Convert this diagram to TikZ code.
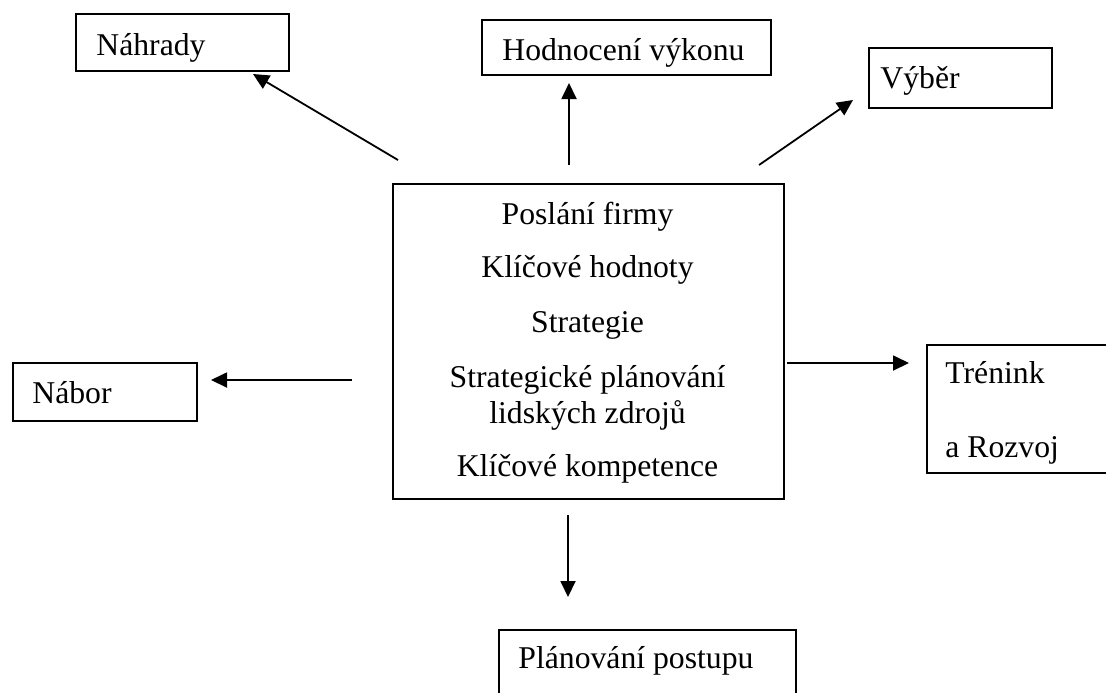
\documentclass[tikz,border=0pt]{standalone}
\usepackage{fontspec}
\setmainfont{Liberation Serif}
\usetikzlibrary{arrows.meta}
\begin{document}
\begin{tikzpicture}[x=0.5pt,y=-0.5pt,
  box/.style={draw, line width=1.1pt, anchor=north west, inner sep=0pt},
  lbl/.style={anchor=base west, inner sep=0pt, font=\fontsize{15.85}{18}\selectfont},
  clbl/.style={anchor=base, inner sep=0pt, font=\fontsize{15.85}{18}\selectfont},
  arr/.style={-{Triangle[length=8pt,width=7.5pt]}, line width=0.9pt}]
\path[use as bounding box] (0,0) rectangle (1106,692);
\clip (0,0) rectangle (1106,692);
% boxes
\node[box, minimum width=106.5pt, minimum height=28.5pt] (nah) at (75,13) {};
\node[box, minimum width=144.5pt, minimum height=27.5pt] (hod) at (481,19) {};
\node[box, minimum width=91.5pt, minimum height=30pt] (vyb) at (868,47) {};
\node[box, minimum width=195.5pt, minimum height=157.5pt] (cen) at (392,183) {};
\node[box, minimum width=92pt, minimum height=29pt] (nab) at (12,362) {};
\node[box, minimum width=100pt, minimum height=64pt] (tre) at (926,344) {};
\node[box, minimum width=148.5pt, minimum height=50pt] (pla) at (498,629) {};
% labels
\node[lbl] (tnah) at (96,55) {Náhrady};
\node[lbl] (thod) at (502,60) {Hodnocení výkonu};
\node[lbl] (tvyb) at (880,88) {Výběr};
\node[lbl] (tnab) at (32,403) {Nábor};
\node[lbl] (ttre1) at (945,383) {Trénink};
\node[lbl] (ttre2) at (945,457) {a Rozvoj};
\node[lbl] (tpla) at (518,668) {Plánování postupu};
\node[clbl] (c1) at (587.5,224) {Poslání firmy};
\node[clbl] (c2) at (587.5,277) {Klíčové hodnoty};
\node[clbl] (c3) at (587.5,332) {Strategie};
\node[clbl] (c4) at (587.5,387) {Strategické plánování};
\node[clbl] (c5) at (587.5,423) {lidských zdrojů};
\node[clbl] (c6) at (587.5,476) {Klíčové kompetence};
% arrow end points
\coordinate (a1s) at (398,160); \coordinate (a1e) at (253,74);
\coordinate (a2s) at (569,165); \coordinate (a2e) at (569,83);
\coordinate (a3s) at (759,165); \coordinate (a3e) at (853,100);
\coordinate (a4s) at (352,380); \coordinate (a4e) at (211,380);
\coordinate (a5s) at (787,363); \coordinate (a5e) at (909,363);
\coordinate (a6s) at (568,515); \coordinate (a6e) at (568,597);
\draw[arr] (a1s) -- (a1e);
\draw[arr] (a2s) -- (a2e);
\draw[arr] (a3s) -- (a3e);
\draw[arr] (a4s) -- (a4e);
\draw[arr] (a5s) -- (a5e);
\draw[arr] (a6s) -- (a6e);
\end{tikzpicture}
\end{document}
